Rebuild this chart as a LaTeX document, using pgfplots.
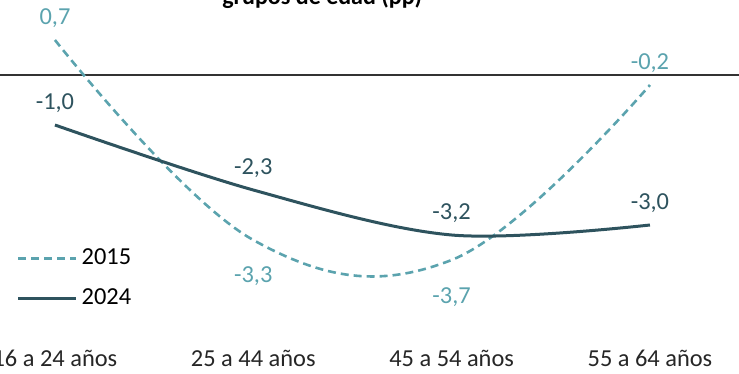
\documentclass[border=0pt]{standalone}
\usepackage{fontspec}
\setmainfont{Carlito}
\usepackage{pgfplots}
\pgfplotsset{compat=1.18}
\usepackage{pgfplotstable}

\definecolor{c2015}{HTML}{5BA3AE}
\definecolor{c2024}{HTML}{2E535E}

% x  y  label  shift
\pgfplotstableread{
x y lbl dy
0 0.7 0,7 11
1 -3.3 -3,3 -18
2 -3.7 -3,7 -18.5
3 -0.2 -0,2 11
}\serieA
\pgfplotstableread{
x y lbl dy
0 -1.0 -1,0 11
1 -2.3 -2,3 11
2 -3.2 -3,2 11
3 -3.0 -3,0 11
}\serieB

\pgfplotsset{etiq/.style={
    nodes near coords,
    point meta=explicit symbolic,
    visualization depends on={\thisrow{dy} \as \dy},
    every node near coord/.append style={anchor=center, yshift=\dy pt,
        font=\fontsize{12.2}{14}\selectfont, text=#1},
}}

\begin{document}
\begin{tikzpicture}
\begin{axis}[
    name=ax,
    scale only axis,
    width=369.5pt, height=187pt,
    xmin=-0.277, xmax=3.449,
    ymin=-5.98, ymax=1.5,
    axis line style={draw=none},
    major tick length=0pt,
    ytick=\empty,
    xtick={0,1,2,3},
    xticklabels={16 a 24 años,25 a 44 años,45 a 54 años,55 a 64 años},
    xticklabel style={anchor=base, yshift=3.8pt, font=\fontsize{12.2}{14}\selectfont, text=black!85},
    extra y ticks={0},
    extra y tick labels={},
    extra y tick style={grid=major, major grid style={black!80, line width=0.6pt}},
    clip=false,
    legend style={at={(0.022,0.346)}, anchor=north west, draw=none, fill=none,
        font=\fontsize{12.2}{14}\selectfont, row sep=6.5pt, inner sep=0pt},
    legend cell align=left,
    legend image code/.code={\draw[#1] (0pt,0pt) -- (29pt,0pt);},
]
\addplot[c2015, line width=1.3pt, dash pattern=on 4pt off 2.5pt, smooth, tension=0.65, etiq=c2015]
    table[x=x, y=y, meta=lbl] {\serieA};
\addlegendentry{2015}
\addplot[c2024, line width=1.5pt, smooth, tension=0.55, etiq=c2024]
    table[x=x, y=y, meta=lbl] {\serieB};
\addlegendentry{2024}
\node[anchor=base, font=\bfseries\fontsize{12}{14}\selectfont] at (rel axis cs:0.436,0.987) {grupos de edad (pp)};
\end{axis}
\pgfresetboundingbox
\path[use as bounding box] (ax.south west) rectangle (ax.north east);
\end{tikzpicture}
\end{document}
